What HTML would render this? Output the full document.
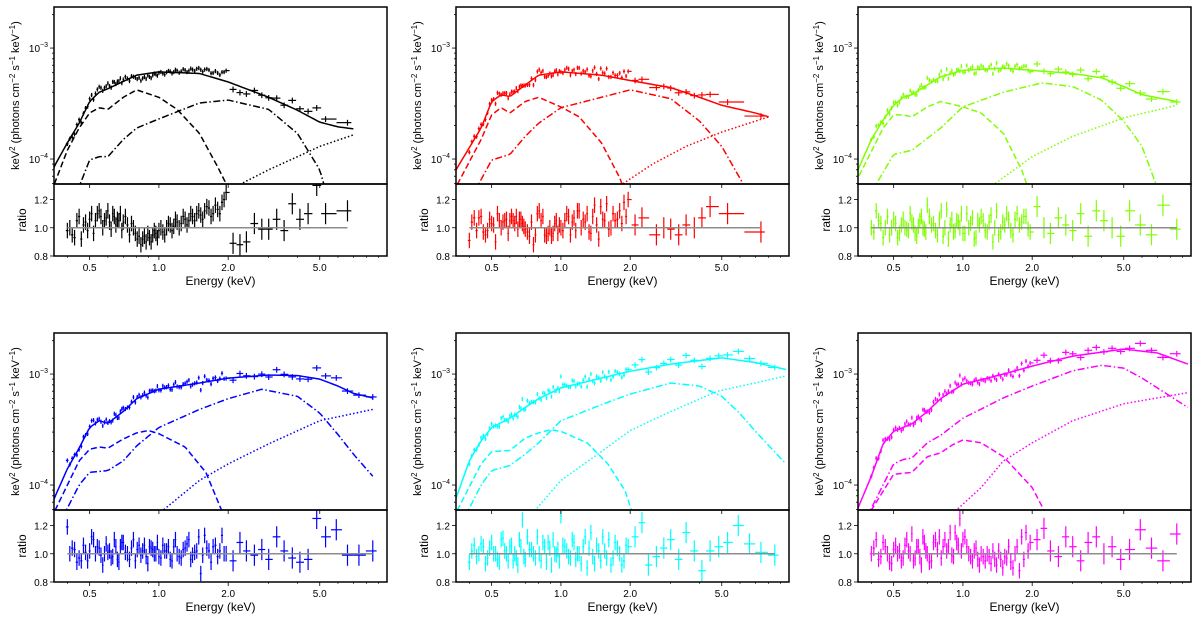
<!DOCTYPE html>
<html><head><meta charset="utf-8">
<style>
html,body{margin:0;padding:0;background:#fff;}
svg{display:block;font-family:"Liberation Sans","DejaVu Sans",sans-serif;}
</style></head>
<body>
<svg id="chart" width="1200" height="617" viewBox="0 0 1200 617" xmlns="http://www.w3.org/2000/svg"></svg>
<script>
// ---- shared data ----
const energies = [0.40,0.42,0.44,0.46,0.48,0.50,0.52,0.54,0.56,0.58,0.60,0.62,0.64,0.66,0.68,0.70,0.73,0.76,0.79,0.82,0.85,0.88,0.91,0.94,0.97,1.00,1.04,1.08,1.12,1.16,1.20,1.25,1.30,1.35,1.40,1.46,1.52,1.58,1.65,1.72,1.80,1.88,1.96,2.10,2.25,2.40,2.60,2.80,3.00,3.25,3.50,3.80,4.10,4.45,4.85,5.30,5.90,6.60,7.40,8.50];
const energies2 = [0.41,0.43,0.45,0.47,0.49,0.51,0.53,0.55,0.57,0.59,0.61,0.63,0.65,0.67,0.69,0.715,0.745,0.775,0.805,0.835,0.865,0.895,0.925,0.955,0.985,1.02,1.06,1.10,1.14,1.18,1.225,1.275,1.325,1.375,1.43,1.49,1.55,1.615,1.685,1.76,1.84,1.92];
const xTickValues = [0.5,1.0,2.0,5.0];
const xTickLabels = ["0.5","1.0","2.0","5.0"];
const xMinorTicks = [0.4,0.6,0.7,0.8,0.9,3,4,6,7,8,9];
const ratioTicks = [0.8,1.0,1.2];
const ratioTickLabels = ["0.8","1.0","1.2"];

// ---- black panel ----
const ratioBlack = [0.98,0.95,1.05,0.92,1.04,1.06,0.96,1.1,1.08,1.05,1.12,0.99,1.08,1.06,1.1,1.04,1.02,1.03,0.96,0.94,0.92,0.9,0.93,0.95,0.96,0.98,0.97,1.0,1.02,1.01,1.04,1.03,1.06,1.05,1.08,1.1,1.09,1.12,1.14,1.1,1.13,1.18,1.25,0.89,0.88,0.9,1.03,0.99,0.99,1.06,0.98,1.17,1.06,1.1,1.3,1.1,null,1.12,null,null];
const ratioBlackB = [1.0,0.93,1.08,1.02,0.98,1.1,1.05,1.12,1.0,1.07,1.04,1.1,1.02,1.05,0.98,1.08,0.95,1.0,0.92,0.88,0.94,0.96,0.9,0.98,0.93,1.0,0.95,1.03,0.98,1.06,1.0,1.08,1.02,1.1,1.05,1.12,1.06,1.15,1.08,1.16,1.1,1.2];
const totBlack = [[0.34,7e-5],[0.35,8.5e-5],[0.4,1.4e-4],[0.45,2.1e-4],[0.5,3.3e-4],[0.55,4.0e-4],[0.6,4.3e-4],[0.7,5.0e-4],[0.8,5.7e-4],[1.0,6.1e-4],[1.5,5.9e-4],[2.0,4.95e-4],[3.0,3.6e-4],[4.0,2.75e-4],[5.0,2.15e-4],[6.0,1.95e-4],[7.0,1.87e-4]];
const dashBlack = [[0.34,5e-5],[0.4,1.2e-4],[0.45,1.9e-4],[0.5,2.6e-4],[0.55,2.9e-4],[0.6,2.8e-4],[0.7,3.6e-4],[0.8,4.2e-4],[1.0,3.6e-4],[1.2,2.8e-4],[1.5,1.7e-4],[1.8,8.5e-5],[2.0,5.5e-5]];
const dotdashBlack = [[0.44,5e-5],[0.5,9.8e-5],[0.55,1.05e-4],[0.6,1.05e-4],[0.7,1.5e-4],[0.8,1.9e-4],[1.0,2.3e-4],[1.5,3.2e-4],[2.0,3.4e-4],[3.0,2.8e-4],[4.0,1.7e-4],[5.0,8e-5],[5.5,4e-5]];
const dotBlack = [[2.1,5.5e-5],[3.0,8e-5],[4.0,1.05e-4],[5.0,1.3e-4],[7.0,1.65e-4]];

// ---- red panel ----
const ratioRed = [0.91,1.07,1.07,0.97,0.98,1.03,0.9,1.05,1.04,1.06,1.05,1.05,1.08,1.06,1.03,0.99,0.94,0.88,1.1,1.05,0.95,0.96,0.94,1.03,0.96,1.0,1.05,1.08,1.04,0.98,1.12,1.06,1.1,0.96,1.16,0.92,1.06,1.17,1.0,1.05,1.12,1.18,1.2,1.02,1.07,null,0.95,1.0,0.99,0.95,1.02,1.0,1.07,1.15,null,1.1,null,null,0.97,null];
const ratioRedB = [1.04,0.98,1.08,0.95,1.06,1.02,1.1,1.0,1.05,0.96,1.08,1.03,0.99,1.06,1.01,0.97,1.04,0.95,1.12,1.08,0.94,1.0,0.96,1.05,1.02,0.98,1.1,0.95,1.07,1.12,1.0,1.04,0.97,1.08,1.02,1.15,1.05,0.99,1.1,1.06,1.03,1.08];
const totRed = [[0.34,7e-5],[0.35,8e-5],[0.45,1.9e-4],[0.5,3.3e-4],[0.55,3.8e-4],[0.6,3.65e-4],[0.7,4.65e-4],[0.8,5.7e-4],[1.0,6.1e-4],[1.5,5.7e-4],[2.0,5.1e-4],[3.0,4.4e-4],[4.0,3.6e-4],[5.0,3.05e-4],[7.0,2.6e-4],[8.0,2.4e-4]];
const dashRed = [[0.34,5e-5],[0.45,1.5e-4],[0.5,2.5e-4],[0.55,2.9e-4],[0.6,2.6e-4],[0.7,3.3e-4],[0.8,3.6e-4],[1.0,2.95e-4],[1.2,2.4e-4],[1.5,1.4e-4],[1.8,6.8e-5],[1.9,5e-5]];
const dotdashRed = [[0.42,5e-5],[0.5,9.8e-5],[0.6,1.1e-4],[0.7,1.6e-4],[0.8,2.1e-4],[1.0,2.9e-4],[1.5,3.6e-4],[2.0,4.2e-4],[3.0,3.5e-4],[4.0,2.2e-4],[5.0,1.3e-4],[6.5,5e-5]];
const dotRed = [[1.75,5.5e-5],[2.5,9e-5],[3.5,1.3e-4],[5.0,1.75e-4],[8.0,2.4e-4]];

// ---- green panel ----
const ratioGreen = [1.0,1.12,1.03,1.0,0.95,1.06,0.93,1.02,1.0,0.98,1.04,0.96,1.01,1.08,0.99,1.16,1.02,0.98,1.06,0.94,1.13,1.02,0.97,1.05,1.0,0.96,1.1,1.03,0.92,1.05,1.08,0.98,1.04,0.9,1.12,0.97,1.02,1.06,0.95,1.1,1.04,1.08,0.97,1.15,1.0,0.96,1.07,1.02,0.98,1.1,0.94,1.12,1.05,1.0,0.94,1.12,1.02,0.95,1.16,0.99];
const ratioGreenB = [0.97,1.05,0.93,1.08,1.0,1.03,0.96,1.06,0.99,1.1,1.02,0.94,1.05,1.0,0.97,1.08,1.03,0.95,1.12,1.0,0.92,1.06,0.98,1.04,1.1,0.96,1.0,1.07,0.93,1.02,1.05,0.97,1.09,1.0,0.95,1.04,1.1,0.98,1.06,1.02,1.08,0.99];
const totGreen = [[0.34,7e-5],[0.35,8e-5],[0.4,1.5e-4],[0.45,2.25e-4],[0.5,3.05e-4],[0.55,3.6e-4],[0.6,3.8e-4],[0.7,4.65e-4],[0.8,5.5e-4],[1.0,6.3e-4],[1.5,6.6e-4],[2.0,6.3e-4],[3.0,5.9e-4],[4.0,5.4e-4],[5.0,4.5e-4],[6.0,3.8e-4],[8.5,3.3e-4]];
const dashGreen = [[0.34,6e-5],[0.45,1.9e-4],[0.5,2.5e-4],[0.55,2.5e-4],[0.6,2.4e-4],[0.7,2.95e-4],[0.8,3.3e-4],[1.0,2.95e-4],[1.2,2.6e-4],[1.5,1.7e-4],[1.8,8e-5],[1.95,5e-5]];
const dotdashGreen = [[0.4,5e-5],[0.5,1.1e-4],[0.6,1.2e-4],[0.8,1.9e-4],[1.0,2.95e-4],[1.5,4e-4],[2.2,4.85e-4],[3.0,4.5e-4],[4.0,3.4e-4],[5.0,2.2e-4],[6.0,1.3e-4],[7.0,5.5e-5]];
const dotGreen = [[1.3,5.5e-5],[2.0,1.05e-4],[3.0,1.6e-4],[5.0,2.35e-4],[8.5,3.05e-4]];

// ---- blue panel ----
const ratioBlue = [1.19,1.04,0.94,0.95,1.01,1.02,1.1,1.05,0.99,1.0,1.01,0.97,1.1,0.96,1.05,1.08,1.0,1.04,0.95,1.06,1.02,0.98,1.05,1.03,1.0,0.98,1.06,1.02,0.96,1.05,1.0,0.97,1.04,1.1,0.99,1.02,0.86,1.13,1.02,1.05,0.98,1.13,1.0,0.95,1.08,1.02,0.99,1.03,0.96,1.12,1.02,0.97,0.94,0.96,1.25,1.12,1.17,0.99,0.99,1.02];
const ratioBlueB = [1.0,1.03,0.97,1.06,0.95,1.12,1.0,1.04,0.92,1.07,1.02,0.98,1.05,0.94,1.08,1.01,0.96,1.1,1.03,0.99,1.06,0.93,1.04,1.0,1.08,0.97,1.02,1.05,0.95,1.1,0.98,1.03,1.07,0.96,1.01,1.12,0.99,1.04,0.94,1.06,1.02,1.0];
const totBlue = [[0.34,6e-5],[0.35,7.5e-5],[0.4,1.4e-4],[0.45,2.15e-4],[0.5,3.3e-4],[0.55,3.8e-4],[0.6,3.6e-4],[0.7,4.6e-4],[0.8,6e-4],[1.0,7.3e-4],[1.5,8.3e-4],[2.0,9.2e-4],[3.0,9.8e-4],[4.0,9.7e-4],[5.0,9e-4],[6.0,7.8e-4],[7.0,6.7e-4],[8.5,6.1e-4]];
const dashBlue = [[0.34,5e-5],[0.45,1.65e-4],[0.5,2.1e-4],[0.55,2.2e-4],[0.6,2.15e-4],[0.7,2.6e-4],[0.8,2.95e-4],[0.9,3.1e-4],[1.0,2.9e-4],[1.3,2.2e-4],[1.6,1.3e-4],[1.9,5.5e-5]];
const dotdashBlue = [[0.38,5e-5],[0.45,1e-4],[0.5,1.3e-4],[0.6,1.35e-4],[0.7,1.65e-4],[0.8,2.25e-4],[1.0,3.3e-4],[1.5,4.8e-4],[2.0,6e-4],[2.8,7.3e-4],[4.0,6.3e-4],[5.0,4.45e-4],[6.0,2.85e-4],[7.0,1.9e-4],[8.5,1.2e-4]];
const dotBlue = [[1.05,6e-5],[1.5,1.1e-4],[2.0,1.55e-4],[3.0,2.35e-4],[5.0,3.8e-4],[8.5,4.8e-4]];

// ---- cyan panel ----
const ratioCyan = [0.94,1.06,1.0,1.05,0.97,1.08,1.0,0.94,1.11,1.0,1.05,0.95,0.97,1.1,1.24,0.96,1.03,1.0,1.12,0.95,1.05,1.08,0.92,1.0,1.03,1.27,1.05,0.98,1.1,0.96,1.0,1.05,0.9,1.15,0.93,1.02,1.12,0.97,0.92,1.08,1.0,0.95,1.05,1.12,1.22,0.92,0.98,1.04,1.1,0.96,1.15,1.02,0.88,1.02,1.05,1.08,1.2,1.07,1.01,0.99];
const ratioCyanB = [1.02,0.98,1.07,0.93,1.04,1.0,0.96,1.1,1.02,0.95,1.06,1.0,0.92,1.05,0.98,1.12,1.03,0.97,1.0,1.08,0.94,1.04,1.1,0.99,0.95,1.06,1.02,0.97,1.08,1.0,0.93,1.12,1.04,0.98,1.06,0.95,1.02,1.1,0.97,1.04,0.92,1.06];
const totCyan = [[0.34,6.5e-5],[0.35,7.6e-5],[0.4,1.65e-4],[0.45,2.5e-4],[0.5,3.3e-4],[0.6,4e-4],[0.7,5e-4],[0.8,6e-4],[1.0,7.5e-4],[1.5,9.2e-4],[2.0,1.06e-3],[3.0,1.23e-3],[5.0,1.4e-3],[7.0,1.27e-3],[9.5,1.1e-3]];
const dashCyan = [[0.34,5e-5],[0.45,1.55e-4],[0.5,2e-4],[0.6,2.05e-4],[0.7,2.65e-4],[0.8,2.95e-4],[0.9,3.15e-4],[1.0,3.05e-4],[1.3,2.4e-4],[1.6,1.55e-4],[1.9,8.9e-5],[2.05,5.5e-5]];
const dotdashCyan = [[0.38,5e-5],[0.45,1e-4],[0.5,1.35e-4],[0.6,1.5e-4],[0.7,1.9e-4],[0.8,2.4e-4],[1.0,3.8e-4],[1.5,5.3e-4],[2.0,6.6e-4],[3.0,8.3e-4],[4.0,7.8e-4],[5.0,6.3e-4],[6.0,4.4e-4],[7.0,3.05e-4],[9.5,1.55e-4]];
const dotCyan = [[0.75,5.5e-5],[1.0,1.1e-4],[1.5,2e-4],[2.0,3.1e-4],[3.0,4.6e-4],[4.8,7e-4],[9.5,9.6e-4]];

// ---- magenta panel ----
const ratioMagenta = [1.0,1.1,0.98,1.05,0.94,1.03,1.0,0.95,1.06,1.02,1.14,0.97,1.05,0.92,1.08,1.0,0.95,1.1,1.12,1.05,1.02,1.15,0.98,1.08,1.25,1.1,1.05,0.98,1.02,0.96,1.0,0.95,0.98,1.02,0.92,0.96,0.98,1.05,0.9,1.05,1.12,1.15,1.08,1.1,1.18,1.02,0.98,1.12,1.05,0.95,1.08,1.12,1.0,1.05,0.96,1.03,1.17,1.04,0.95,1.14];
const ratioMagentaB = [1.04,0.96,1.08,1.0,0.93,1.06,1.02,0.97,1.1,1.0,0.95,1.05,0.98,1.12,1.02,0.94,1.08,1.03,0.97,1.1,1.05,0.99,1.15,1.06,1.02,1.12,1.0,0.95,1.04,0.92,0.98,1.0,0.93,0.96,1.02,0.9,0.97,0.94,1.0,0.88,0.96,1.02];
const totMagenta = [[0.34,5e-5],[0.35,6.2e-5],[0.4,1.2e-4],[0.45,2.35e-4],[0.5,3.05e-4],[0.6,3.55e-4],[0.7,4.6e-4],[0.8,6e-4],[1.0,8.1e-4],[1.5,1e-3],[2.0,1.18e-3],[3.0,1.45e-3],[5.0,1.68e-3],[7.0,1.55e-3],[9.5,1.23e-3]];
const dashMagenta = [[0.38,5e-5],[0.5,1.25e-4],[0.6,1.3e-4],[0.7,1.8e-4],[0.8,1.95e-4],[0.9,2.3e-4],[1.0,2.55e-4],[1.2,2.4e-4],[1.5,1.8e-4],[2.0,9.5e-5],[2.35,5e-5]];
const dotdashMagenta = [[0.38,5e-5],[0.5,1.55e-4],[0.55,1.7e-4],[0.6,1.75e-4],[0.7,2.4e-4],[0.8,2.8e-4],[1.0,4e-4],[1.5,6.1e-4],[2.0,7.8e-4],[3.0,1.07e-3],[4.0,1.2e-3],[5.0,1.13e-3],[6.0,9.2e-4],[7.0,7.5e-4],[9.5,5e-4]];
const dotMagenta = [[0.9,5.5e-5],[1.2,9.5e-5],[1.5,1.65e-4],[2.0,2.4e-4],[3.0,3.8e-4],[5.0,5.4e-4],[9.5,6.8e-4]];

// ---- layout ----
const NS = "http://www.w3.org/2000/svg";
const svg = document.getElementById("chart");
const W = 333, MH = 177, RH = 72;
const EMIN = 0.35, EMAX = 9.8, LTOP = -2.63, LBOT = -4.225, RTOP = 1.31, RBOT = 0.8;

function el(tag, attrs, parent){
  const e = document.createElementNS(NS, tag);
  for (const k in attrs) e.setAttribute(k, attrs[k]);
  (parent||svg).appendChild(e);
  return e;
}
function interpLog(arr, E){
  if (E <= arr[0][0]) return arr[0][1];
  for (let i=1;i<arr.length;i++){
    if (E <= arr[i][0]){
      const a=arr[i-1], b=arr[i];
      const t=(Math.log10(E)-Math.log10(a[0]))/(Math.log10(b[0])-Math.log10(a[0]));
      return Math.pow(10, Math.log10(a[1])+t*(Math.log10(b[1])-Math.log10(a[1])));
    }
  }
  return arr[arr.length-1][1];
}

const panels = [
  {id:"black", x0:54, y0:7, color:"#000000", ratio:ratioBlack, ratioB:ratioBlackB, tot:totBlack, dash:dashBlack, dd:dotdashBlack, dot:dotBlack},
  {id:"red", x0:456, y0:7, color:"#ff0000", ratio:ratioRed, ratioB:ratioRedB, tot:totRed, dash:dashRed, dd:dotdashRed, dot:dotRed},
  {id:"green", x0:858, y0:7, color:"#7fff00", ratio:ratioGreen, ratioB:ratioGreenB, tot:totGreen, dash:dashGreen, dd:dotdashGreen, dot:dotGreen},
  {id:"blue", x0:54, y0:333, color:"#0000ff", ratio:ratioBlue, ratioB:ratioBlueB, tot:totBlue, dash:dashBlue, dd:dotdashBlue, dot:dotBlue},
  {id:"cyan", x0:456, y0:333, color:"#00ffff", ratio:ratioCyan, ratioB:ratioCyanB, tot:totCyan, dash:dashCyan, dd:dotdashCyan, dot:dotCyan},
  {id:"magenta", x0:858, y0:333, color:"#ff00ff", ratio:ratioMagenta, ratioB:ratioMagentaB, tot:totMagenta, dash:dashMagenta, dd:dotdashMagenta, dot:dotMagenta}
];

panels.forEach(p => {
  const xs = E => p.x0 + (Math.log10(E)-Math.log10(EMIN))/(Math.log10(EMAX)-Math.log10(EMIN))*W;
  const ym = v => p.y0 + (LTOP-Math.log10(v))/(LTOP-LBOT)*MH;
  const ry0 = p.y0 + MH;
  const yr = r => ry0 + (RTOP-r)/(RTOP-RBOT)*RH;

  const g = el("g", {});
  
  

  const cid = "clipm-"+p.id, cid2 = "clipr-"+p.id;
  const defs = el("defs", {}, g);
  const c1 = el("clipPath", {id:cid}, defs);
  el("rect", {x:p.x0, y:p.y0, width:W, height:MH}, c1);
  const c2 = el("clipPath", {id:cid2}, defs);
  el("rect", {x:p.x0, y:ry0, width:W, height:RH}, c2);

  // model curves
  const curves = [[p.tot,"none","model-total"],[p.dash,"6,3","model-dashed-component"],[p.dd,"7,2.5,1.5,2.5","model-dashdot-component"],[p.dot,"1.5,2.2","model-dotted-component"]];
  curves.forEach(c => {
    const arr = c[0];
    const pts = [];
    const lo = Math.log10(arr[0][0]), hi = Math.log10(arr[arr.length-1][0]);
    for (let i=0;i<=120;i++){
      const E = Math.pow(10, lo + (hi-lo)*i/120);
      pts.push(xs(E).toFixed(2)+","+ym(interpLog(arr,E)).toFixed(2));
    }
    const pl = el("polyline", {points:pts.join(" "), fill:"none", stroke:p.color, "stroke-width":1.5, "stroke-dasharray":c[1], "clip-path":"url(#"+cid+")"}, g);
    
    
  });

  // merge data sets
  const pts = [];
  energies.forEach((E,i)=>{ if (p.ratio[i]!==null) pts.push([E,p.ratio[i]]); });
  energies2.forEach((E,i)=>{ if (p.ratioB[i]!==null && p.ratioB[i]!==undefined) pts.push([E,p.ratioB[i]]); });
  pts.sort((a,b)=>a[0]-b[0]);
  const firstE = pts[0][0], lastE = pts[pts.length-1][0];
  pts.forEach((pt,k) => {
    const E = pt[0], r = pt[1];
    const prevE = k>0 ? pts[k-1][0] : E*0.97;
    const nextE = k<pts.length-1 ? pts[k+1][0] : E*1.08;
    const ehi = Math.min(Math.sqrt(nextE*E), E*1.18);
    const elo = Math.max(Math.sqrt(prevE*E), E/1.18);
    const err = 0.055 + (E>2 ? 0.02 : 0);
    const flux = interpLog(p.tot, E)*r;
    const dg = el("g", {stroke:p.color, "stroke-width":1.2}, g);
    
    
    el("line", {x1:xs(elo), x2:xs(ehi), y1:ym(flux), y2:ym(flux), "clip-path":"url(#"+cid+")"}, dg);
    el("line", {x1:xs(E), x2:xs(E), y1:ym(flux*(1+err*0.8)), y2:ym(flux*(1-err*0.8)), "clip-path":"url(#"+cid+")"}, dg);
    el("line", {x1:xs(elo), x2:xs(ehi), y1:yr(r), y2:yr(r), "clip-path":"url(#"+cid2+")"}, dg);
    el("line", {x1:xs(E), x2:xs(E), y1:yr(r+err), y2:yr(r-err), "clip-path":"url(#"+cid2+")"}, dg);
  });
  const ref = el("line", {x1:xs(firstE), x2:xs(lastE), y1:yr(1), y2:yr(1), stroke:"#8c8c8c", "stroke-width":1.5}, g);
  
  

  // frames
  const f1 = el("rect", {x:p.x0, y:p.y0, width:W, height:MH, fill:"none", stroke:"#000", "stroke-width":1.5}, g);
  
  
  const f2 = el("rect", {x:p.x0, y:ry0, width:W, height:RH, fill:"none", stroke:"#000", "stroke-width":1.5}, g);
  
  

  // y ticks main (log)
  for (let d=-5; d<=-2; d++){
    for (let m=1; m<10; m++){
      const v = m*Math.pow(10,d);
      const lv = Math.log10(v);
      if (lv > LTOP || lv < LBOT) continue;
      const y = ym(v);
      el("line", {x1:p.x0, x2:p.x0-(m===1?4:2), y1:y, y2:y, stroke:"#000", "stroke-width":0.8}, g);
      if (m===1){
        const t = el("text", {x:p.x0-6, y:y+4, "text-anchor":"end", "font-size":10, fill:"#000"}, g);
        t.textContent = "10";
        const s = el("tspan", {"font-size":7, dy:-5}, t);
        s.textContent = "\u2212" + (-d);
        
        
      }
    }
  }
  // ratio ticks
  ratioTicks.forEach((r,i) => {
    const y = yr(r);
    el("line", {x1:p.x0, x2:p.x0-4, y1:y, y2:y, stroke:"#000", "stroke-width":0.8}, g);
    const t = el("text", {x:p.x0-6, y:y+4, "text-anchor":"end", "font-size":10, fill:"#000"}, g);
    t.textContent = ratioTickLabels[i];
    
    
  });
  // x ticks
  const yb = ry0 + RH;
  xTickValues.forEach((E,i) => {
    const x = xs(E);
    el("line", {x1:x, x2:x, y1:yb, y2:yb+4, stroke:"#000", "stroke-width":0.8}, g);
    el("line", {x1:x, x2:x, y1:ry0, y2:ry0+4, stroke:"#000", "stroke-width":0.8}, g);
    const t = el("text", {x:x, y:yb+15, "text-anchor":"middle", "font-size":10, fill:"#000"}, g);
    t.textContent = xTickLabels[i];
    
    
  });
  xMinorTicks.forEach(E => {
    const x = xs(E);
    el("line", {x1:x, x2:x, y1:yb, y2:yb+2, stroke:"#000", "stroke-width":0.6}, g);
  });

  // axis labels
  const xl = el("text", {x:p.x0+W/2, y:yb+29, "text-anchor":"middle", "font-size":12, fill:"#000"}, g);
  xl.textContent = "Energy (keV)";
  
  

  const yx = p.x0 - 35, yy = p.y0 + MH/2;
  const yl = el("text", {x:yx, y:yy, "text-anchor":"middle", "font-size":11, fill:"#000", transform:"rotate(-90 "+yx+" "+yy+")"}, g);
  yl.innerHTML = 'keV<tspan font-size="8" dy="-4">2</tspan><tspan dy="4"> (photons cm</tspan><tspan font-size="8" dy="-4">\u22122</tspan><tspan dy="4"> s</tspan><tspan font-size="8" dy="-4">\u22121</tspan><tspan dy="4"> keV</tspan><tspan font-size="8" dy="-4">\u22121</tspan><tspan dy="4">)</tspan>';
  
  

  const rx = p.x0 - 28, rY = ry0 + RH/2;
  const rl = el("text", {x:rx, y:rY, "text-anchor":"middle", "font-size":12, fill:"#000", transform:"rotate(-90 "+rx+" "+rY+")"}, g);
  rl.textContent = "ratio";
  
  
});
</script>
</body></html>
